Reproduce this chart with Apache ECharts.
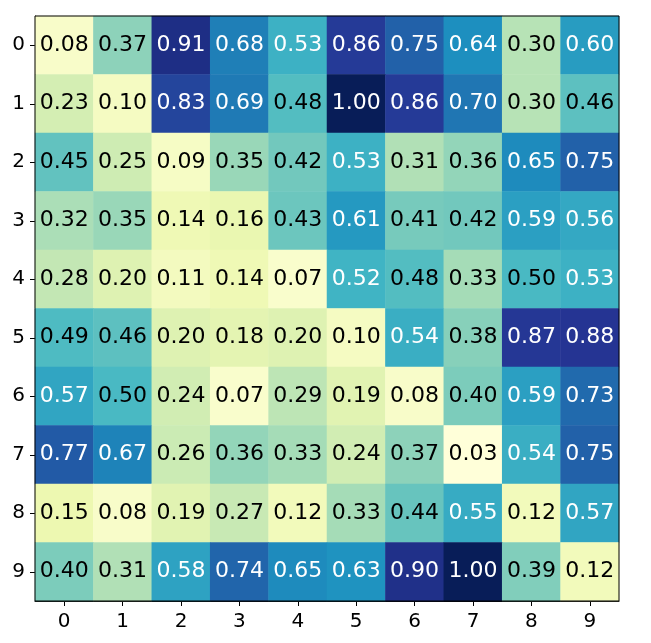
<!DOCTYPE html>
<html>
<head>
<meta charset="utf-8">
<script src="https://cdn.jsdelivr.net/npm/echarts@6/dist/echarts.min.js"></script>
<style>
  html, body { margin: 0; padding: 0; background: #fff; }
  #chart { width: 651px; height: 643px; }
</style>
</head>
<body>
<div id="chart"></div>
<script>
// tick labels
const xLabels = ['0', '1', '2', '3', '4', '5', '6', '7', '8', '9'];
const yLabels = ['0', '1', '2', '3', '4', '5', '6', '7', '8', '9'];

// matrix rows (row 0 at top)
const row0 = [0.08, 0.37, 0.91, 0.68, 0.53, 0.86, 0.75, 0.64, 0.30, 0.60];
const row1 = [0.23, 0.10, 0.83, 0.69, 0.48, 1.00, 0.86, 0.70, 0.30, 0.46];
const row2 = [0.45, 0.25, 0.09, 0.35, 0.42, 0.53, 0.31, 0.36, 0.65, 0.75];
const row3 = [0.32, 0.35, 0.14, 0.16, 0.43, 0.61, 0.41, 0.42, 0.59, 0.56];
const row4 = [0.28, 0.20, 0.11, 0.14, 0.07, 0.52, 0.48, 0.33, 0.50, 0.53];
const row5 = [0.49, 0.46, 0.20, 0.18, 0.20, 0.10, 0.54, 0.38, 0.87, 0.88];
const row6 = [0.57, 0.50, 0.24, 0.07, 0.29, 0.19, 0.08, 0.40, 0.59, 0.73];
const row7 = [0.77, 0.67, 0.26, 0.36, 0.33, 0.24, 0.37, 0.03, 0.54, 0.75];
const row8 = [0.15, 0.08, 0.19, 0.27, 0.12, 0.33, 0.44, 0.55, 0.12, 0.57];
const row9 = [0.40, 0.31, 0.58, 0.74, 0.65, 0.63, 0.90, 1.00, 0.39, 0.12];
const rows = [row0, row1, row2, row3, row4, row5, row6, row7, row8, row9];

// YlGnBu
const ylgnbu = ['#ffffd9', '#edf8b1', '#c7e9b4', '#7fcdbb', '#41b6c4',
  '#1d91c0', '#225ea8', '#253494', '#081d58'];

const font = 'DejaVu Sans';

let cells = [];
rows.forEach((r, yi) => {
  r.forEach((v, xi) => {
    cells.push({
      value: [xi, yi, v],
      label: { color: v > 0.5 ? '#ffffff' : '#000000' }
    });
  });
});

const myChart = echarts.init(document.getElementById('chart'), null, { renderer: 'canvas' });
myChart.setOption({
  animation: false,
  backgroundColor: '#ffffff',
  grid: {
    left: 35,
    top: 16,
    width: 584,
    height: 585,
    show: true,
    borderColor: '#000',
    borderWidth: 1,
    backgroundColor: 'transparent',
    z: 10
  },
  xAxis: {
    type: 'category',
    data: xLabels,
    position: 'bottom',
    axisLine: { show: true, lineStyle: { color: '#000', width: 1 } },
    axisTick: { show: true, alignWithLabel: true, length: 5, lineStyle: { color: '#000' } },
    axisLabel: { color: '#000', fontFamily: font, fontSize: 20, margin: 11 },
    splitLine: { show: false }
  },
  yAxis: {
    type: 'category',
    data: yLabels,
    inverse: true,
    axisLine: { show: true, lineStyle: { color: '#000', width: 1 } },
    axisTick: { show: true, alignWithLabel: true, length: 5, lineStyle: { color: '#000' } },
    axisLabel: { color: '#000', fontFamily: font, fontSize: 20, margin: 10 },
    splitLine: { show: false }
  },
  visualMap: {
    show: false,
    type: 'continuous',
    min: 0.03,
    max: 1.0,
    dimension: 2,
    inRange: { color: ylgnbu }
  },
  series: [
    {
      type: 'heatmap',
      data: cells,
      itemStyle: { borderWidth: 0 },
      emphasis: { disabled: true },
      label: {
        show: true,
        fontFamily: font,
        fontSize: 22,
        formatter: (p) => p.value[2].toFixed(2)
      }
    }
  ]
});
</script>
</body>
</html>
